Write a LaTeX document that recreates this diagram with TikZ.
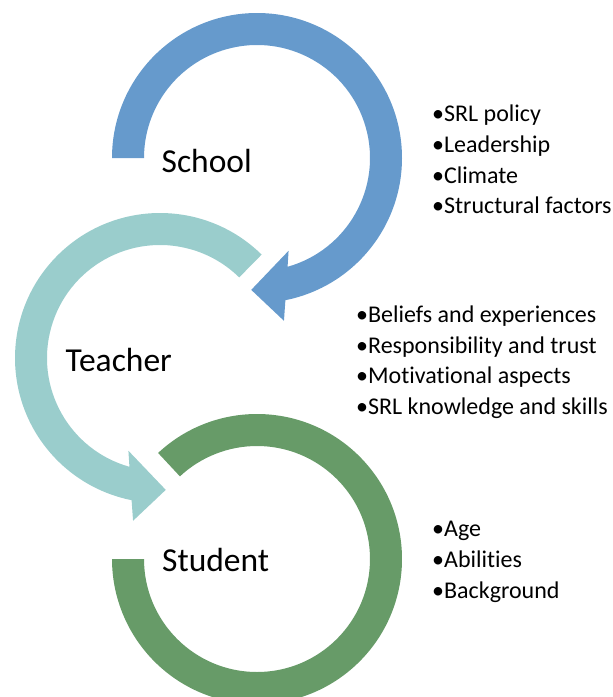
\documentclass[tikz,border=0pt]{standalone}
\usepackage{fontspec}
\setmainfont{Carlito}[Ligatures={NoCommon}]
\usetikzlibrary{calc}

\definecolor{schoolblue}{RGB}{102,154,204}
\definecolor{teacherteal}{RGB}{154,205,204}
\definecolor{studentgreen}{RGB}{103,155,104}

\tikzset{
  ringlabel/.style={anchor=base west, inner sep=0pt, font=\fontsize{33.5}{40}\selectfont},
  bulletitem/.style={anchor=base west, inner sep=0pt, font=\fontsize{24}{29}\selectfont},
}

\begin{document}
\begin{tikzpicture}[x=1pt,y=1pt]
\useasboundingbox (0,0) rectangle (613,-697);

% centres of the three rings
\coordinate (cschool) at (257,-158);
\coordinate (cteacher) at (160,-358);
\coordinate (cstudent) at (257,-559);

% School: clockwise ring from the left, arrowhead at the bottom
\begin{scope}[shift={(cschool)}]
  \fill[schoolblue] (180:145) arc[start angle=180, end angle=-78.7, radius=145]
    -- (-80.6:165) -- (-92.5:132) -- (-71.2:98) -- (-74.3:113)
    arc[start angle=-74.3, end angle=180, radius=113] -- cycle;
\end{scope}

% Teacher: counter-clockwise ring from the upper right, arrowhead at the bottom
\begin{scope}[shift={(cteacher)}]
  \fill[teacherteal] (45.5:145) arc[start angle=45.5, end angle=258.7, radius=145]
    -- (260.6:165) -- (272.5:132) -- (251.2:98) -- (254.3:113)
    arc[start angle=254.3, end angle=45.5, radius=113] -- cycle;
\end{scope}

% Student: open ring without arrowhead
\begin{scope}[shift={(cstudent)}]
  \fill[studentgreen] (133:145) arc[start angle=133, end angle=-180, radius=145]
    -- (-180:113)
    arc[start angle=-180, end angle=133, radius=113] -- cycle;
\end{scope}

% ring labels
\node[ringlabel] (school) at (161.5,-172) {School};
\node[ringlabel] (teacher) at (65.5,-371.5) {Teacher};
\node[ringlabel] (student) at (162,-571.5) {Student};

% school factors
\node[bulletitem] (s1) at (432,-121.7) {•SRL policy};
\node[bulletitem] (s2) at (432,-152.4) {•Leadership};
\node[bulletitem] (s3) at (432,-183.1) {•Climate};
\node[bulletitem] (s4) at (432,-213.8) {•Structural factors};

% teacher factors
\node[bulletitem] (t1) at (356,-322.3) {•Beliefs and experiences};
\node[bulletitem] (t2) at (356,-353.0) {•Responsibility and trust};
\node[bulletitem] (t3) at (356,-383.7) {•Motivational aspects};
\node[bulletitem] (t4) at (356,-414.4) {•SRL knowledge and skills};

% student factors
\node[bulletitem] (u1) at (432,-536.7) {•Age};
\node[bulletitem] (u2) at (432,-567.4) {•Abilities};
\node[bulletitem] (u3) at (432,-598.1) {•Background};
\end{tikzpicture}
\end{document}
